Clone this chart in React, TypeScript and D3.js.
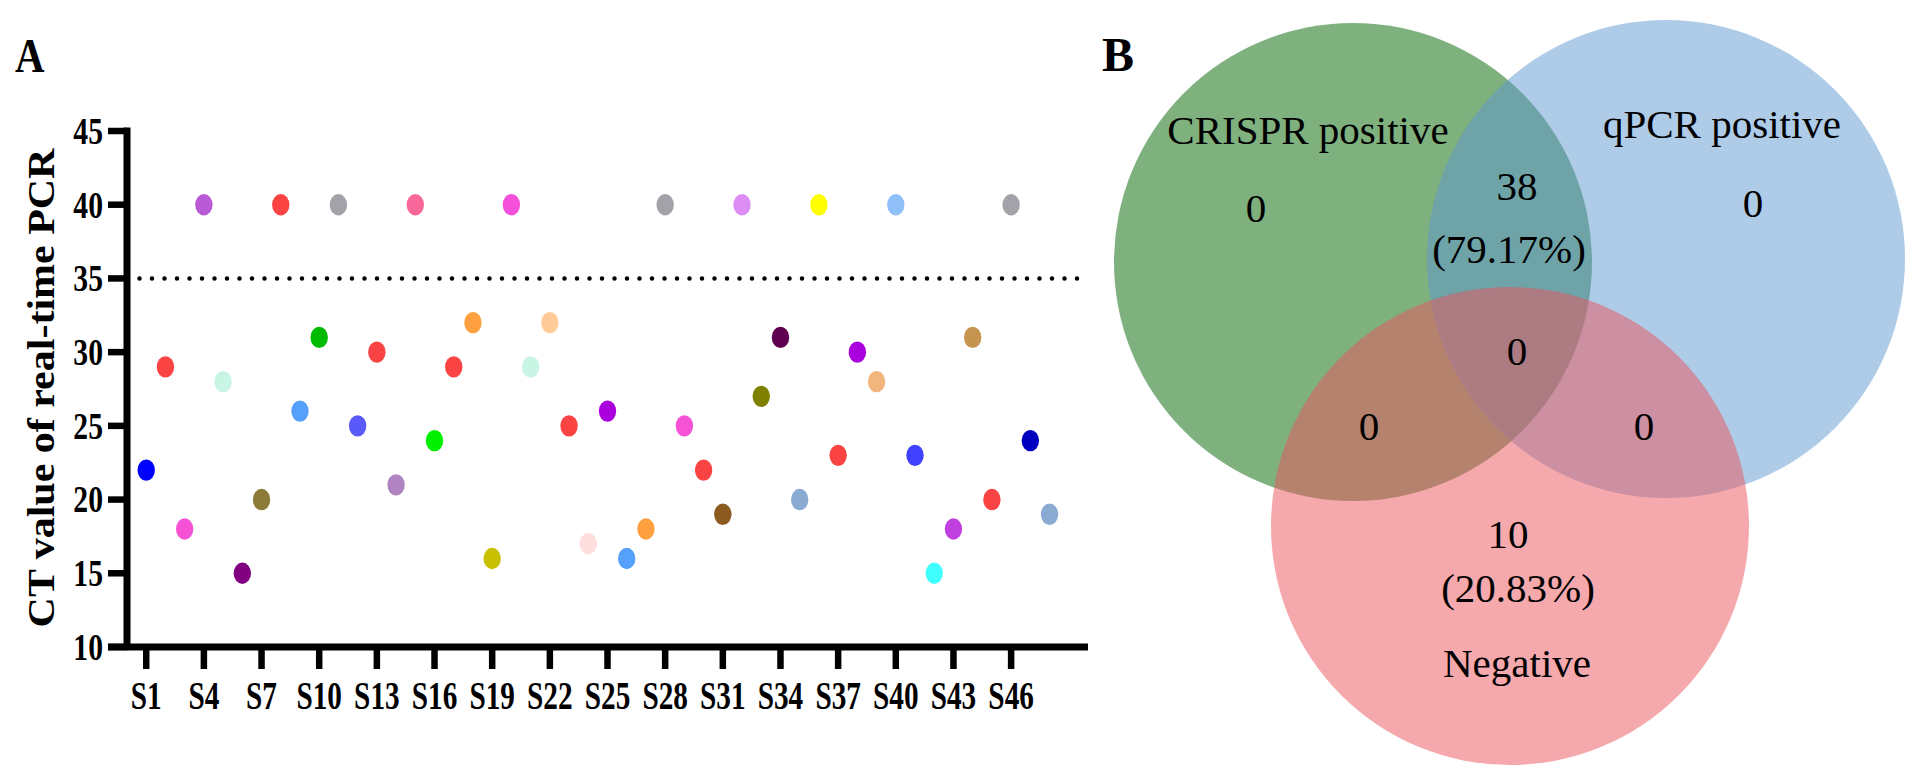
import * as d3 from 'd3'
import React from 'react'

// panel A data
const samples = [
  'S1', 'S2', 'S3', 'S4', 'S5', 'S6', 'S7', 'S8', 'S9', 'S10', 'S11', 'S12',
  'S13', 'S14', 'S15', 'S16', 'S17', 'S18', 'S19', 'S20', 'S21', 'S22', 'S23', 'S24',
  'S25', 'S26', 'S27', 'S28', 'S29', 'S30', 'S31', 'S32', 'S33', 'S34', 'S35', 'S36',
  'S37', 'S38', 'S39', 'S40', 'S41', 'S42', 'S43', 'S44', 'S45', 'S46', 'S47', 'S48',
]
const ctValues = [
  22, 29, 18, 40, 28, 15, 20, 40, 26, 31, 40, 25,
  30, 21, 40, 24, 29, 32, 16, 40, 29, 32, 25, 17,
  26, 16, 18, 40, 25, 22, 19, 40, 27, 31, 20, 40,
  23, 30, 28, 40, 23, 15, 18, 31, 20, 40, 24, 19,
]
const pointColors = [
  '#0000ff', '#fa4444', '#f652d6', '#b85ad6', '#c8f5e4', '#800080', '#8b7a38', '#fa4444',
  '#55a0fa', '#00bb00', '#a2a2a8', '#5a5afa', '#fa4444', '#b084c0', '#f8679a', '#00f000',
  '#fa4444', '#ffa040', '#c8c000', '#f550dc', '#c8f5e4', '#ffcc99', '#fa4444', '#ffdede',
  '#aa00dd', '#55a0fa', '#ffa040', '#a2a2a8', '#f652d6', '#fa4444', '#8b5a1e', '#dd8ef5',
  '#808000', '#600050', '#8aaad2', '#ffff00', '#fa4444', '#aa00dd', '#f0b67e', '#90c0fa',
  '#4040ff', '#40ffff', '#c040e0', '#c59550', '#fa4444', '#a2a2a8', '#0000c0', '#8aaad2',
]
const yTicks = [10, 15, 20, 25, 30, 35, 40, 45]
const xTickLabels = ['S1', 'S4', 'S7', 'S10', 'S13', 'S16', 'S19', 'S22', 'S25', 'S28', 'S31', 'S34', 'S37', 'S40', 'S43', 'S46']
const cutoff = 35

// panel B data
const setNames = ['CRISPR positive', 'qPCR positive', 'Negative']
const setColors = ['#006400', '#5d97d1', '#eb535b']
const regionCounts = { crisprOnly: 0, qpcrOnly: 0, both: 38, negative: 10, crisprNeg: 0, qpcrNeg: 0, all: 0 }
const total = 48

const serif = '"Liberation Serif", "Times New Roman", serif'

const W = 1922
const H = 783
const axisX = 127
const axisY = 647

const x = d3.scaleLinear().domain([0, 50]).range([axisX, 1088])
const y = d3.scaleLinear().domain([10, 45]).range([axisY, 131])

const pct = (n: number) => `(${((n / total) * 100).toFixed(2)}%)`

const App = () => {
  const idx = (s: string) => samples.indexOf(s) + 1

  // venn geometry
  const r = 239
  const circles = [
    { cx: 1353, cy: 262 },
    { cx: 1666, cy: 259 },
    { cx: 1510, cy: 526 },
  ]

  return (
    <svg width={W} height={H} style={{ position: 'absolute', left: 0, top: 0, background: '#fff' }} fontFamily={serif}>
      {/* ---------- A ---------- */}
      <text transform="translate(15,72) scale(0.85,1)" fontSize={48} fontWeight="bold">A</text>

      <text
        transform={`translate(54,${(y(45) + y(10)) / 2 - 1}) scale(0.88,1) rotate(-90)`}
        textAnchor="middle"
        fontSize={42}
        fontWeight="bold"
      >
        CT value of real-time PCR
      </text>

      {/* cutoff line */}
      <line
        x1={x(0.65)}
        x2={x(49.5)}
        y1={y(cutoff)}
        y2={y(cutoff)}
        stroke="#000"
        strokeWidth={4.5}
        strokeLinecap="round"
        strokeDasharray="0 12.5"
      />

      {/* points */}
      {ctValues.map((v, i) => (
        <ellipse key={i} cx={x(i + 1)} cy={y(v)} rx={8.7} ry={10.7} fill={pointColors[i]} />
      ))}

      {/* y axis */}
      <line x1={axisX} x2={axisX} y1={y(45) - 3.5} y2={axisY} stroke="#000" strokeWidth={7} />
      {yTicks.map((t) => (
        <g key={t} transform={`translate(0,${y(t)})`}>
          <line x1={axisX - 19} x2={axisX} stroke="#000" strokeWidth={6.5} />
          <text
            transform={`translate(${axisX - 24},0) scale(0.78,1)`}
            textAnchor="end"
            dominantBaseline="central"
            fontSize={38}
            fontWeight="bold"
          >
            {t}
          </text>
        </g>
      ))}

      {/* x axis */}
      <line x1={axisX - 19} x2={x(50)} y1={axisY} y2={axisY} stroke="#000" strokeWidth={7} />
      {xTickLabels.map((s) => (
        <g key={s} transform={`translate(${x(idx(s))},${axisY})`}>
          <line y1={0} y2={22} stroke="#000" strokeWidth={6.5} />
          <text transform="translate(0,62) scale(0.75,1)" textAnchor="middle" fontSize={39} fontWeight="bold">
            {s}
          </text>
        </g>
      ))}

      {/* ---------- B ---------- */}
      <text x={1102} y={71} fontSize={48} fontWeight="bold">B</text>
      {circles.map((c, i) => (
        <circle key={i} cx={c.cx} cy={c.cy} r={r} fill={setColors[i]} fillOpacity={0.5} />
      ))}

      <g fontSize={41} textAnchor="middle">
        <text x={1308} y={144}>{setNames[0]}</text>
        <text x={1722} y={138}>{setNames[1]}</text>
        <text x={1517} y={677}>{setNames[2]}</text>

        <text x={1256} y={222}>{regionCounts.crisprOnly}</text>
        <text x={1753} y={217}>{regionCounts.qpcrOnly}</text>
        <text x={1517} y={200}>{regionCounts.both}</text>
        <text x={1509} y={263}>{pct(regionCounts.both)}</text>
        <text x={1517} y={365}>{regionCounts.all}</text>
        <text x={1369} y={440}>{regionCounts.crisprNeg}</text>
        <text x={1644} y={440}>{regionCounts.qpcrNeg}</text>
        <text x={1508} y={548}>{regionCounts.negative}</text>
        <text x={1518} y={602}>{pct(regionCounts.negative)}</text>
      </g>
    </svg>
  )
}

export default App
